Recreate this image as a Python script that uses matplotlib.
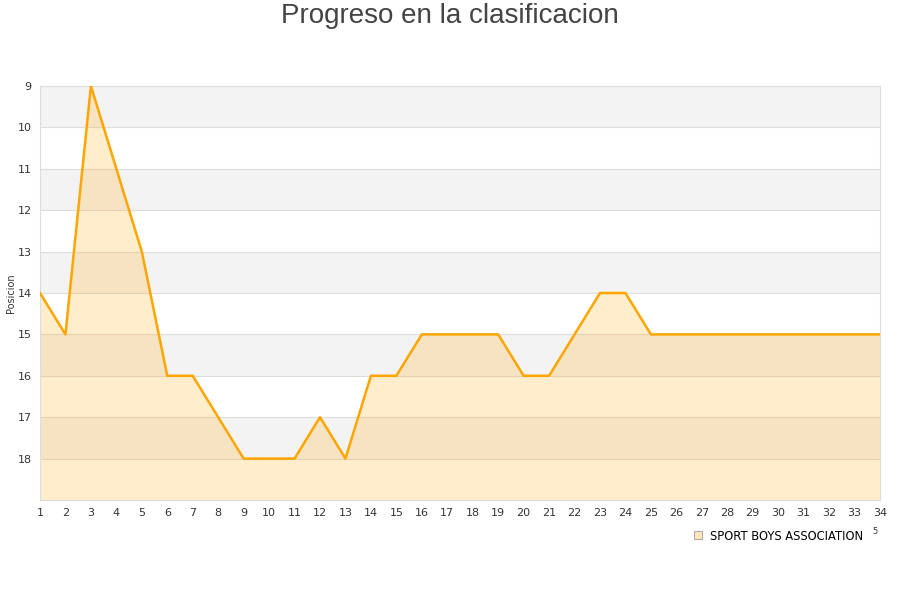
import matplotlib
matplotlib.use("Agg")
import matplotlib.pyplot as plt
from matplotlib.lines import Line2D

# Jornadas y posiciones
jornadas = list(range(1, 35))
posiciones = [14, 15, 9, 11, 13, 16, 16, 17, 18, 18, 18, 17, 18, 16, 16, 15, 15, 15, 15, 16,
              16, 15, 14, 14, 15, 15, 15, 15, 15, 15, 15, 15, 15, 15]
y_ticks = list(range(9, 19))
equipo = "SPORT BOYS ASSOCIATION"

fig = plt.figure(figsize=(9, 6), dpi=100)
ax = fig.add_axes([40 / 900, 1 - 500 / 600, 840 / 900, 414 / 600])

# Alternating bands
for k in range(9, 19):
    if (k - 9) % 2 == 0:
        ax.axhspan(k, k + 1, color="#f3f3f3", zorder=0, lw=0)
for k in range(10, 19):
    ax.axhline(k, color="#dddddd", lw=0.8, zorder=1)

ax.fill_between(jornadas, posiciones, 19, color="#ffa500", alpha=0.2, lw=0, zorder=2)
ax.plot(jornadas, posiciones, color="#ffa500", lw=1.8, zorder=3)

ax.set_xlim(1, 34)
ax.set_ylim(19, 9)
ax.set_xticks(jornadas)
ax.set_yticks(y_ticks)
ax.tick_params(length=0, labelsize=8, colors="#333333", pad=6)
for s in ax.spines.values():
    s.set_color("#dddddd")
    s.set_linewidth(0.8)

ax.set_ylabel("Posicion", fontsize=7, color="#333333", va="center")
ax.yaxis.set_label_coords(-29 / 840, 0.5)
fig.text(0.5, 1 - 16 / 600, "Progreso en la clasificacion", fontsize=20, color="#444444",
         family="Liberation Sans", ha="center", va="center")

handle = Line2D([], [], marker="s", linestyle="none", markersize=6,
                markerfacecolor="#ffe8c0", markeredgecolor="#999999", markeredgewidth=0.6)
fig.legend([handle], [equipo], loc="center left", bbox_to_anchor=(686 / 900, 1 - 536 / 600),
           frameon=False, fontsize=8.3, handlelength=1, handletextpad=0.6, borderpad=0)
fig.text(875 / 900, 1 - 532 / 600, "5", fontsize=6, color="#333333", ha="center", va="center")

fig.savefig("out.png", dpi=100)
